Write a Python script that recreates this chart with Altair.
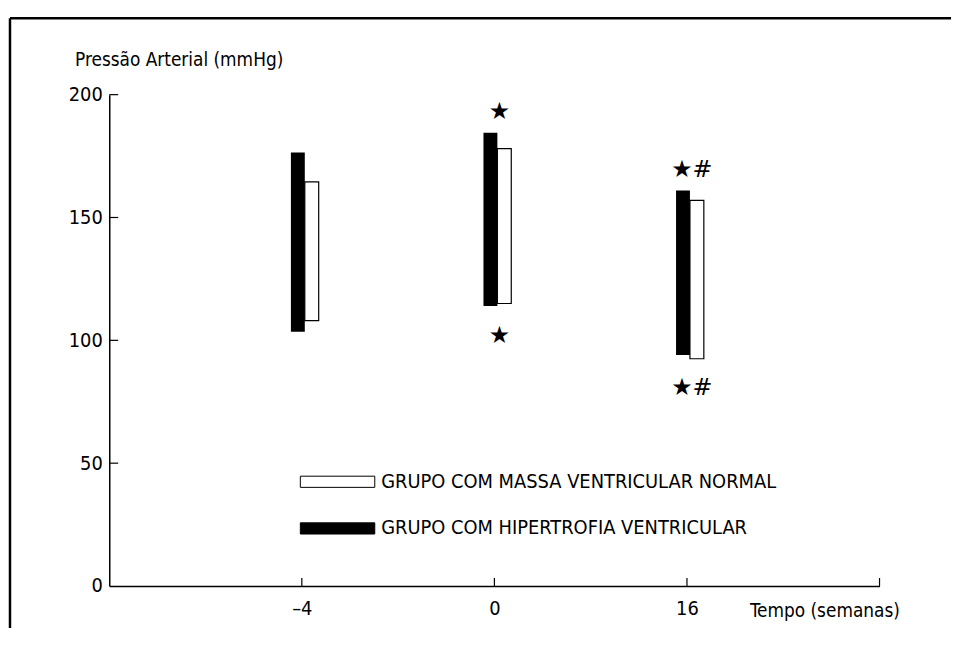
import altair as alt
import pandas as pd

# ---- data ----
times = ["–4", "0", "16"]
grupos = ["GRUPO COM MASSA VENTRICULAR NORMAL", "GRUPO COM HIPERTROFIA VENTRICULAR"]
normal_sys = [164.5, 178.0, 157.0]
normal_dia = [108.0, 115.0, 92.5]
hiper_sys = [176.5, 184.5, 161.0]
hiper_dia = [103.5, 114.0, 94.0]
sig_top = ["", "★", "★#"]
sig_bottom = ["", "★", "★#"]
y_tick_values = [0, 50, 100, 150, 200]

FONT = "Liberation Sans Narrow, DejaVu Sans Condensed, sans-serif"
W, H = 776, 495

rows = []
for i, t in enumerate(times):
    rows.append({"tempo": t, "grupo": grupos[0], "high": normal_sys[i], "low": normal_dia[i]})
    rows.append({"tempo": t, "grupo": grupos[1], "high": hiper_sys[i], "low": hiper_dia[i]})
df = pd.DataFrame(rows)

ann_top = pd.DataFrame({
    "tempo": times,
    "high": [max(a, b) for a, b in zip(normal_sys, hiper_sys)],
    "sig": sig_top,
})
ann_bot = pd.DataFrame({
    "tempo": times,
    "high": [min(a, b) for a, b in zip(normal_dia, hiper_dia)],
    "sig": sig_bottom,
})
yticks_df = pd.DataFrame({"high": y_tick_values[1:]})
xticks_df = pd.DataFrame({"tempo": times})
one = pd.DataFrame({"k": [0]})

x_axis = alt.Axis(
    title="Tempo (semanas)", labelAngle=0, ticks=False, tickSize=0, labelPadding=13,
    labelFont=FONT, labelFontSize=20, labelColor="black",
    titleFont=FONT, titleFontSize=19, titleFontWeight="normal", titleColor="black",
    titleX=796, titleY=25, titleAlign="right", titleBaseline="middle",
    domainColor="black", domainWidth=1.5, grid=False,
)
y_axis = alt.Axis(
    title="Pressão Arterial (mmHg)", values=y_tick_values, ticks=False, tickSize=0,
    labelPadding=7, labelFont=FONT, labelFontSize=20, labelColor="black",
    titleFont=FONT, titleFontSize=19, titleFontWeight="normal", titleColor="black",
    titleAngle=0, titleAlign="left", titleBaseline="middle", titleX=-35, titleY=-35,
    domainColor="black", domainWidth=1.5, grid=False,
)
x_scale = alt.Scale(type="point", domain=times, padding=1)
y_scale = alt.Scale(domain=[0, 200], nice=False, zero=True)


def X():
    return alt.X("tempo:O", scale=x_scale, axis=x_axis)


def Y(field="high"):
    return alt.Y(f"{field}:Q", scale=y_scale, axis=y_axis)


color = alt.Color(
    "grupo:N",
    scale=alt.Scale(domain=grupos, range=["white", "black"]),
    legend=alt.Legend(
        title=None, orient="none", legendX=220, legendY=380,
        symbolType="M-5,-0.75L5,-0.75L5,0.75L-5,0.75Z", symbolSize=225,
        symbolStrokeColor="black", symbolStrokeWidth=1,
        labelFont=FONT, labelFontSize=20, labelColor="black", labelOffset=34,
        labelLimit=800, rowPadding=27, padding=0,
    ),
)

base = alt.Chart(df)
white_bars = base.transform_filter(alt.datum.grupo == grupos[0]).mark_bar(
    width=14, xOffset=10, stroke="black", strokeWidth=1.2
).encode(x=X(), y=Y("high"), y2="low:Q", color=color)
black_bars = base.transform_filter(alt.datum.grupo == grupos[1]).mark_bar(
    width=14, xOffset=-4
).encode(x=X(), y=Y("high"), y2="low:Q", color=color)

txt_top = alt.Chart(ann_top).mark_text(
    font="DejaVu Sans", fontSize=24, dy=-21, dx=5, baseline="middle", color="black"
).encode(x=X(), y=Y("high"), text="sig:N")
txt_bot = alt.Chart(ann_bot).mark_text(
    font="DejaVu Sans", fontSize=24, dy=30, dx=5, baseline="middle", color="black"
).encode(x=X(), y=Y("high"), text="sig:N")

ytick_rules = alt.Chart(yticks_df).mark_rule(color="black", strokeWidth=1.2).encode(
    y=Y("high"), x=alt.value(0), x2=alt.value(9)
)
xtick_rules = alt.Chart(xticks_df).mark_rule(color="black", strokeWidth=1.2).encode(
    x=X(), y=alt.value(H), y2=alt.value(H - 8)
)
end_tick = alt.Chart(one).mark_rule(color="black", strokeWidth=1.2).encode(
    x=alt.value(W), y=alt.value(H), y2=alt.value(H - 8)
)
frame_left = alt.Chart(one).mark_rule(color="black", strokeWidth=2.5).encode(
    x=alt.value(-100), y=alt.value(-77), y2=alt.value(600)
)
frame_top = alt.Chart(one).mark_rule(color="black", strokeWidth=2.5).encode(
    x=alt.value(-100), x2=alt.value(900), y=alt.value(-77)
)

chart = alt.layer(
    white_bars, black_bars, txt_top, txt_bot, ytick_rules, xtick_rules, end_tick,
    frame_left, frame_top,
).properties(
    width=W, height=H,
    padding={"left": 102, "top": 85, "right": 72, "bottom": 40},
    autosize=alt.AutoSizeParams(type="none"),
    background="white",
).configure_view(strokeWidth=0)

chart.save("out.html", embed_options={"renderer": "svg", "actions": False})
